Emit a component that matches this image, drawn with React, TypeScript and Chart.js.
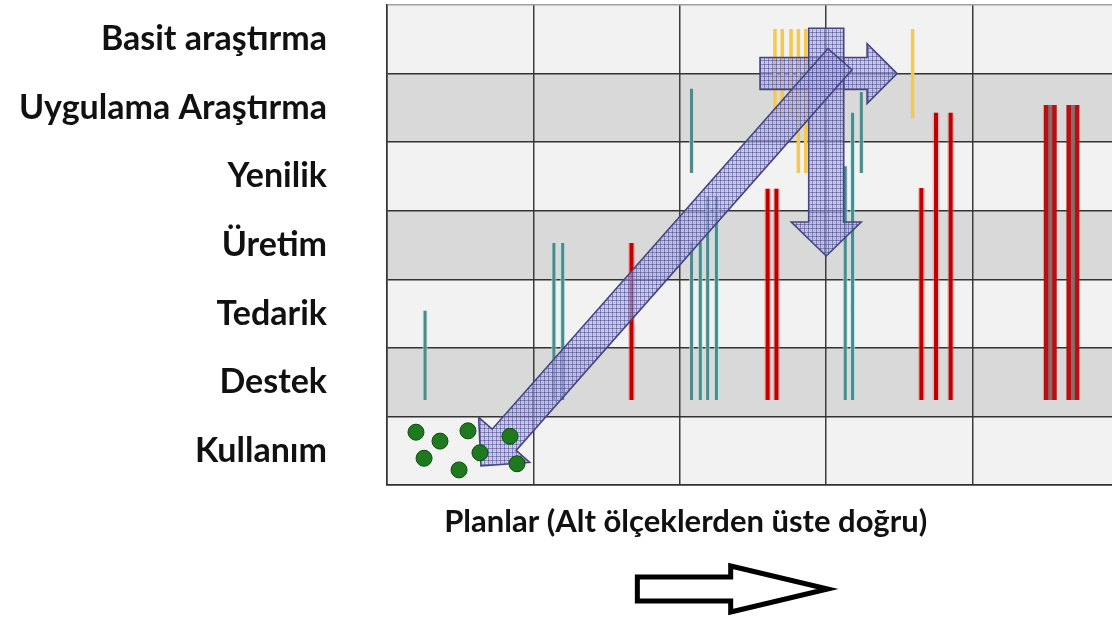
import React, { useEffect, useRef } from 'react';
import { Chart, registerables } from 'chart.js';

Chart.register(...registerables);

// Row labels, top to bottom
const rowLabels = ['Basit araştırma', 'Uygulama Araştırma', 'Yenilik', 'Üretim', 'Tedarik', 'Destek', 'Kullanım'];
const xAxisTitle = 'Planlar (Alt ölçeklerden üste doğru)';

// Vertical segments (x in plan-column units, y in row units from the bottom)
const tealX = [0.26, 1.14, 1.2, 2.08, 2.08, 2.14, 2.19, 2.25, 3.13, 3.18, 3.24];
const tealTop = [2.54, 3.53, 3.53, 5.78, 3.54, 3.54, 4.2, 4.2, 4.65, 5.43, 5.73];
const tealBottom = [1.24, 1.24, 1.24, 4.55, 1.24, 1.24, 1.24, 1.24, 1.24, 1.24, 4.55];

const yellowX = [2.65, 2.7, 2.76, 2.81, 2.86, 3.59];
const yellowTop = [6.65, 6.65, 6.65, 6.65, 6.65, 6.65];
const yellowBottom = [5.37, 5.37, 5.37, 4.55, 4.55, 5.35];

const redX = [1.67, 2.6, 2.66, 3.65, 3.75, 3.85];
const redTop = [3.53, 4.32, 4.32, 4.33, 5.43, 5.43];
const redBottom = [1.24, 1.24, 1.24, 1.24, 1.24, 1.24];

const barX = [4.53, 4.685];
const barTop = [5.54, 5.54];
const barBottom = [1.24, 1.24];

// Green points in the "Kullanım" row
const dotX = [0.198, 0.362, 0.553, 0.253, 0.492, 0.635, 0.84, 0.888];
const dotY = [0.77, 0.64, 0.79, 0.39, 0.22, 0.47, 0.71, 0.31];

// Hatched arrows: [x1, y1, x2, y2] from tail to tip
const arrowHorizontal = [2.548, 6.0, 3.484, 6.0];
const arrowVertical = [3.0, 6.66, 3.0, 3.34];
const arrowDiagonal = [3.094, 6.21, 0.642, 0.277];

const xGridTicks = [0, 1, 2, 3, 4];
const X_MAX = 4.952;
const Y_MAX = 7;

function segs(xs: number[], tops: number[], bottoms: number[]) {
  const out: any[] = [];
  xs.forEach((x, i) => {
    out.push({ x, y: tops[i] });
    out.push({ x, y: bottoms[i] });
    out.push({ x, y: null });
  });
  return out;
}

function lineDs(data: any[], color: string, width: number, order: number) {
  return {
    data,
    showLine: true,
    borderColor: color,
    backgroundColor: color,
    borderWidth: width,
    borderCapStyle: 'butt',
    pointRadius: 0,
    pointHoverRadius: 0,
    spanGaps: false,
    order,
  };
}

function arrowPath(ctx: CanvasRenderingContext2D, x1: number, y1: number, x2: number, y2: number,
  sh: number, hh: number, hl: number) {
  const dx = x2 - x1, dy = y2 - y1;
  const L = Math.hypot(dx, dy);
  const ux = dx / L, uy = dy / L;
  const px = -uy, py = ux;
  const bx = x2 - ux * hl, by = y2 - uy * hl;
  ctx.beginPath();
  ctx.moveTo(x1 + px * sh, y1 + py * sh);
  ctx.lineTo(bx + px * sh, by + py * sh);
  ctx.lineTo(bx + px * hh, by + py * hh);
  ctx.lineTo(x2, y2);
  ctx.lineTo(bx - px * hh, by - py * hh);
  ctx.lineTo(bx - px * sh, by - py * sh);
  ctx.lineTo(x1 - px * sh, y1 - py * sh);
  ctx.closePath();
}

function zeroPad(s: any) {
  s.paddingTop = 0;
  s.paddingBottom = 0;
  s.paddingLeft = 0;
  s.paddingRight = 0;
}

export default function App() {
  const ref = useRef<HTMLCanvasElement>(null);

  useEffect(() => {
    if (!ref.current) return;

    const pc = document.createElement('canvas');
    pc.width = 4; pc.height = 4;
    const pctx = pc.getContext('2d')!;
    pctx.fillStyle = 'rgba(182,182,228,0.6)';
    pctx.fillRect(0, 0, 4, 4);
    pctx.fillStyle = 'rgba(60,60,132,0.5)';
    pctx.fillRect(0, 0, 4, 1);
    pctx.fillRect(0, 0, 1, 4);
    pctx.fillStyle = 'rgba(80,80,150,0.3)';
    pctx.fillRect(2, 2, 1, 1);

    const decor = {
      id: 'decor',
      beforeDraw(chart: any) {
        const { ctx, chartArea } = chart;
        const ys = chart.scales.y;
        ctx.save();
        for (let r = 0; r < 7; r++) {
          const top = ys.getPixelForValue(r + 1);
          const bot = ys.getPixelForValue(r);
          ctx.fillStyle = r % 2 === 1 ? '#d9d9d9' : '#f2f2f2';
          ctx.fillRect(chartArea.left, top, chartArea.right - chartArea.left, bot - top);
        }
        ctx.restore();
      },
      beforeDatasetDraw(chart: any, args: any) {
        if (args.index !== 0) return;
        const { ctx } = chart;
        const xs = chart.scales.x, ys = chart.scales.y;
        const pattern = ctx.createPattern(pc, 'repeat');
        const draw = (a: number[], sh: number, hh: number, hl: number) => {
          arrowPath(ctx, xs.getPixelForValue(a[0]), ys.getPixelForValue(a[1]),
            xs.getPixelForValue(a[2]), ys.getPixelForValue(a[3]), sh, hh, hl);
          ctx.fillStyle = pattern;
          ctx.fill();
          ctx.lineWidth = 1.6;
          ctx.strokeStyle = '#45457f';
          ctx.stroke();
        };
        ctx.save();
        draw(arrowHorizontal, 16, 30, 30);
        draw(arrowVertical, 17.5, 35, 34);
        draw(arrowDiagonal, 16, 34, 35);
        ctx.restore();
      },
      afterDraw(chart: any) {
        const { ctx, chartArea } = chart;
        const xs = chart.scales.x;
        ctx.save();
        ctx.fillStyle = '#111';
        ctx.font = 'bold 31px Lato';
        ctx.textAlign = 'center';
        ctx.textBaseline = 'alphabetic';
        ctx.fillText(xAxisTitle, xs.getPixelForValue(2.04), chartArea.bottom + 47);
        // hollow direction arrow
        const y = chartArea.bottom + 104;
        const x1 = xs.getPixelForValue(1.71);
        const x2 = xs.getPixelForValue(3.01);
        const bx = x2 - 97;
        ctx.beginPath();
        ctx.moveTo(x1, y - 12);
        ctx.lineTo(bx, y - 12);
        ctx.lineTo(bx, y - 23);
        ctx.lineTo(x2, y);
        ctx.lineTo(bx, y + 23);
        ctx.lineTo(bx, y + 12);
        ctx.lineTo(x1, y + 12);
        ctx.closePath();
        ctx.fillStyle = '#fff';
        ctx.fill();
        ctx.lineWidth = 5;
        ctx.lineJoin = 'miter';
        ctx.strokeStyle = '#000';
        ctx.stroke();
        ctx.restore();
      },
    };

    const chart = new Chart(ref.current, {
      type: 'scatter',
      data: {
        datasets: [
          {
            data: dotX.map((x, i) => ({ x, y: dotY[i] })),
            showLine: false,
            pointRadius: 8,
            pointHoverRadius: 8,
            pointBackgroundColor: '#1f7a1f',
            pointBorderColor: '#0f4a0f',
            pointBorderWidth: 1,
            order: 0,
          } as any,
          lineDs(segs(barX, barTop, barBottom), '#8a6a6a', 4, 1),
          lineDs(segs(redX, redTop, redBottom), '#c00000', 4, 1),
          lineDs(segs(yellowX, yellowTop, yellowBottom), '#f4c94c', 3.5, 1),
          lineDs(segs(tealX, tealTop, tealBottom), '#4e8a8a', 3, 1),
          lineDs(segs(barX, barTop, barBottom), '#b81010', 13, 2),
          lineDs(segs(redX, redTop, redBottom), 'rgba(255,110,110,0.35)', 7, 2),
          lineDs(segs(tealX, tealTop, tealBottom), 'rgba(170,235,235,0.6)', 5, 2),
        ] as any,
      },
      options: {
        animation: false,
        responsive: false,
        events: [],
        layout: { autoPadding: false, padding: { left: 0, top: 5, right: 0, bottom: 0 } },
        plugins: { legend: { display: false }, tooltip: { enabled: false } },
        scales: {
          x: {
            type: 'linear',
            min: 0,
            max: X_MAX,
            afterBuildTicks: (s: any) => { s.ticks = xGridTicks.map((v) => ({ value: v })); },
            afterFit: (s: any) => { s.height = 132; zeroPad(s); },
            ticks: { display: false },
            grid: { color: '#3c3c3c', lineWidth: 1.5, drawTicks: false },
            border: { display: true, color: '#333', width: 1.5 },
          },
          y: {
            type: 'linear',
            min: 0,
            max: Y_MAX,
            afterBuildTicks: (s: any) => {
              const t: any[] = [];
              for (let v = 0; v <= 14; v++) t.push({ value: v / 2 });
              s.ticks = t;
            },
            afterFit: (s: any) => { s.width = 387; zeroPad(s); },
            ticks: {
              autoSkip: false,
              padding: 60,
              color: '#111',
              font: { family: 'Lato', weight: 'bold', size: 34 },
              callback: (v: any) => (v % 1 !== 0 ? rowLabels[6 - Math.floor(v)] : ''),
            },
            grid: {
              drawTicks: false,
              color: (c: any) => (c.tick && c.tick.value % 1 !== 0 ? 'transparent' : (c.tick && c.tick.value === 7 ? '#a0a0a0' : '#333')),
              lineWidth: 1.5,
            },
            border: { display: true, color: '#333', width: 1.5 },
          },
        },
      } as any,
      plugins: [decor],
    });

    return () => chart.destroy();
  }, []);

  return (
    <div style={{ position: 'absolute', left: 0, top: 0, width: 1112, height: 617, background: '#fff' }}>
      <canvas ref={ref} width={1112} height={617} style={{ display: 'block' }} />
    </div>
  );
}
